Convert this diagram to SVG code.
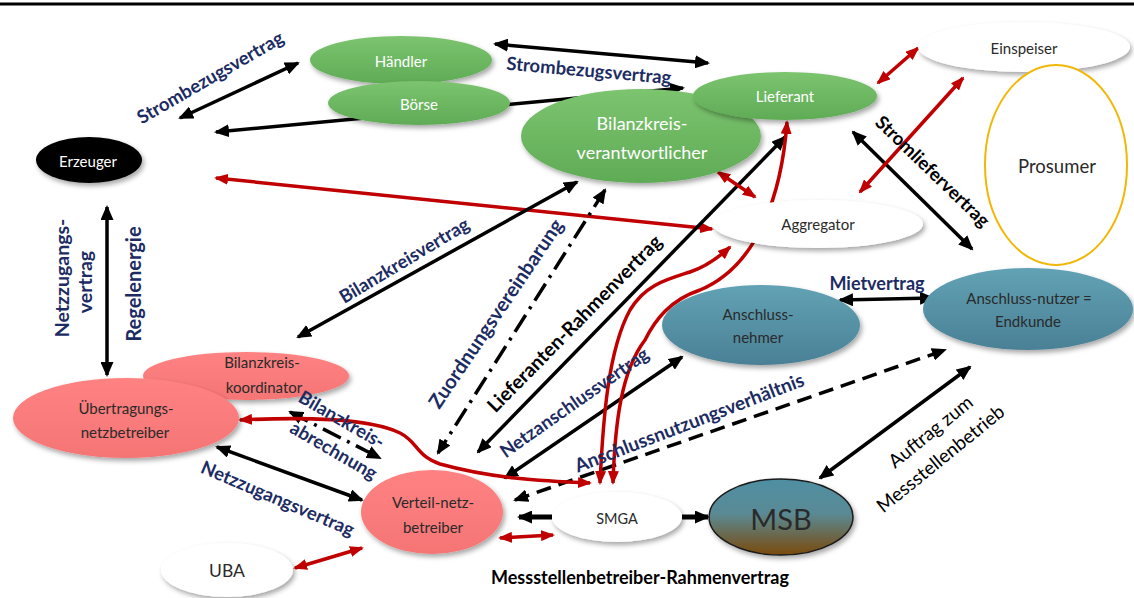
<svg xmlns="http://www.w3.org/2000/svg" width="1134" height="598" viewBox="0 0 1134 598">
<style>
.nt{font-family:Lato,"Open Sans",sans-serif;font-size:15px;text-anchor:middle;dominant-baseline:central}
.w{fill:#fff}
.d{fill:#2a2a2a}
.lb{font-family:Lato,"Open Sans",sans-serif;font-weight:bold;font-size:18.5px;fill:#1C2C63;text-anchor:middle;dominant-baseline:central}
.lk{font-family:Lato,"Open Sans",sans-serif;font-weight:bold;font-size:18.5px;fill:#000;text-anchor:middle;dominant-baseline:central}
.lr{font-family:Lato,"Open Sans",sans-serif;font-size:19px;fill:#000;text-anchor:middle;dominant-baseline:central}
.k{fill:none;stroke:#000;stroke-width:3.5}
.kd{marker-start:url(#ab);marker-end:url(#ab)}
.r{fill:none;stroke:#C00000;stroke-width:3.5;marker-start:url(#ar);marker-end:url(#ar)}
.dd{stroke-dasharray:20 7 3 7}
.ds{stroke-dasharray:15 8}
.g{fill:url(#gg)}
.s{fill:url(#gs)}
.t{fill:url(#gt)}
.wh{fill:#fff}
</style>
<defs>
<linearGradient id="gg" x1="0" y1="0" x2="0" y2="1"><stop offset="0" stop-color="#7CC46F"/><stop offset="1" stop-color="#60AB56"/></linearGradient>
<linearGradient id="gs" x1="0" y1="0" x2="0" y2="1"><stop offset="0" stop-color="#FF8282"/><stop offset="1" stop-color="#F57575"/></linearGradient>
<linearGradient id="gt" x1="0" y1="0" x2="0" y2="1"><stop offset="0" stop-color="#62A2B4"/><stop offset="1" stop-color="#4A8096"/></linearGradient>
<linearGradient id="gm" x1="0" y1="0" x2="0" y2="1"><stop offset="0" stop-color="#4F8FA3"/><stop offset="0.45" stop-color="#5A8A95"/><stop offset="1" stop-color="#7A4A0C"/></linearGradient>
<filter id="sh" x="-20%" y="-20%" width="140%" height="150%"><feDropShadow dx="2" dy="3" stdDeviation="2.5" flood-color="#000" flood-opacity="0.35"/></filter>
<marker id="ab" viewBox="0 0 15 13" refX="13" refY="6.5" markerWidth="15" markerHeight="13" markerUnits="userSpaceOnUse" orient="auto-start-reverse"><path d="M0,0 L15,6.5 L0,13 z" fill="#000"/></marker>
<marker id="ar" viewBox="0 0 14 11" refX="12" refY="5.5" markerWidth="14" markerHeight="11" markerUnits="userSpaceOnUse" orient="auto-start-reverse"><path d="M0,0 L14,5.5 L0,11 z" fill="#C00000"/></marker>
</defs>
<rect width="1134" height="598" fill="#fff"/>
<line x1="0" y1="4" x2="1134" y2="4" stroke="#000" stroke-width="3"/>

<g id="connectors">
<path class="k kd" d="M180,118 L298,63"/>
<path class="k kd" d="M216,132 L683,88"/>
<path class="r" d="M216,178 L712,229"/>
<path class="k kd" d="M495,44 L708,63"/>
<path class="k kd" d="M853,132 L972,249"/>
<path class="k kd" d="M577,182 L298,337"/>
<path class="k kd dd" d="M605,190 L438,453"/>
<path class="k kd" d="M785,137 L478,452"/>
<path class="k kd dd" d="M290,412 L380,458"/>
<path class="k kd" d="M217,447 L362,500"/>
<path class="k kd" d="M107,207 L107,375"/>
<path class="k kd" d="M505,478 L682,357"/>
<path class="k kd ds" d="M515,500 L945,350"/>
<path class="k kd" d="M840,300 L933,298"/>
<path class="k kd" d="M820,478 L970,367"/>
<path fill="none" stroke="#000" stroke-width="5" marker-end="url(#ab)" d="M552,517 L519,517"/>
<path fill="none" stroke="#000" stroke-width="5" marker-end="url(#ab)" d="M682,517 L708,517"/>
<path class="r" d="M718,172 L755,197"/>
<path class="r" d="M878,83 L918,48"/>
<path class="r" d="M963,78 L860,192"/>
<path class="r" d="M600,483 C603,420 608,350 630,310 C645,285 665,280 690,272 C705,267 718,258 730,247"/>
<path class="r" d="M613,483 C615,420 622,370 645,340 C655,320 670,300 700,290 C760,265 782,190 787,122"/>
<path class="r" d="M240,420 C300,417 370,418 400,433 C418,442 415,455 440,464 C490,478 540,481 590,483"/>
<path class="r" d="M500,538 L553,535"/>
<path class="r" d="M295,568 L362,548"/>
</g>

<g id="haendler"><ellipse class="g" cx="401" cy="60" rx="91" ry="24" filter="url(#sh)"/><text class="nt w" x="401" y="61">Händler</text></g>
<g id="boerse"><ellipse class="g" cx="419" cy="103" rx="91" ry="22" filter="url(#sh)"/><text class="nt w" x="419" y="104">Börse</text></g>
<g id="bkv"><ellipse class="g" cx="641" cy="136" rx="120" ry="47" filter="url(#sh)"/><text class="nt w" x="642" y="123" style="font-size:18px">Bilanzkreis-</text><text class="nt w" x="642" y="152" style="font-size:18px">verantwortlicher</text></g>
<g id="lieferant"><ellipse class="g" cx="785" cy="96" rx="92" ry="24" filter="url(#sh)"/><text class="nt w" x="785" y="96">Lieferant</text></g>
<g id="einspeiser"><ellipse class="wh" cx="1024" cy="47" rx="106" ry="25" filter="url(#sh)"/><text class="nt d" x="1024" y="48">Einspeiser</text></g>
<g id="prosumer"><ellipse cx="1056" cy="165" rx="71" ry="100" fill="#fff" stroke="#F2B705" stroke-width="2"/><text class="nt d" x="1057" y="166" style="font-size:18.5px">Prosumer</text></g>
<g id="erzeuger"><ellipse cx="89" cy="160" rx="53" ry="23" fill="#000" filter="url(#sh)"/><text class="nt w" x="88" y="161">Erzeuger</text></g>
<g id="aggregator"><ellipse class="wh" cx="818" cy="224" rx="105" ry="24" filter="url(#sh)"/><text class="nt d" x="818" y="224">Aggregator</text></g>
<g id="anschlussnehmer"><ellipse class="t" cx="761" cy="325" rx="99" ry="40" filter="url(#sh)"/><text class="nt d" x="758" y="314">Anschluss-</text><text class="nt d" x="758" y="337">nehmer</text></g>
<g id="anschlussnutzer"><ellipse class="t" cx="1028" cy="309" rx="105" ry="41" filter="url(#sh)"/><text class="nt d" x="1029" y="298">Anschluss-nutzer =</text><text class="nt d" x="1028" y="321">Endkunde</text></g>
<g id="bkk"><ellipse class="s" cx="246" cy="376" rx="103" ry="24" filter="url(#sh)"/><text class="nt d" x="262" y="362">Bilanzkreis-</text><text class="nt d" x="264" y="387">koordinator</text></g>
<g id="uenb"><ellipse class="s" cx="126" cy="418" rx="113" ry="40" filter="url(#sh)"/><text class="nt d" x="126" y="408">Übertragungs-</text><text class="nt d" x="125" y="432">netzbetreiber</text></g>
<g id="vnb"><ellipse class="s" cx="432" cy="512" rx="71" ry="42" filter="url(#sh)"/><text class="nt d" x="433" y="502">Verteil-netz-</text><text class="nt d" x="433" y="527">betreiber</text></g>
<g id="smga"><ellipse class="wh" cx="617" cy="517" rx="65" ry="25" filter="url(#sh)"/><text class="nt d" x="617" y="518" style="font-size:14.5px">SMGA</text></g>
<g id="msb"><ellipse cx="781" cy="517" rx="72" ry="38" fill="url(#gm)" stroke="#1a1a1a" stroke-width="1.5" filter="url(#sh)"/><text class="nt d" x="781" y="518" style="font-size:29px">MSB</text></g>
<g id="uba"><ellipse class="wh" cx="227" cy="570" rx="66" ry="27" filter="url(#sh)"/><text class="nt d" x="227" y="570" style="font-size:17.5px">UBA</text></g>

<g id="labels">
<text class="lb" transform="translate(210,77) rotate(-30)">Strombezugsvertrag</text>
<text class="lb" transform="translate(589,70) rotate(5)">Strombezugsvertrag</text>
<text class="lk" transform="translate(933,171) rotate(44)">Stromliefervertrag</text>
<text class="lb" transform="translate(404,260) rotate(-31)">Bilanzkreisvertrag</text>
<text class="lb" transform="translate(495,313) rotate(-56)" style="font-size:20px">Zuordnungsvereinbarung</text>
<text class="lk" transform="translate(574,323) rotate(-45.5)" style="font-size:19.5px">Lieferanten-Rahmenvertrag</text>
<text class="lb" transform="translate(574,402) rotate(-35)">Netzanschlussvertrag</text>
<text class="lb" transform="translate(689,422) rotate(-21)" style="font-size:19px">Anschlussnutzungsverhältnis</text>
<text class="lb" x="877" y="283" style="font-size:18px">Mietvertrag</text>
<text class="lr" transform="translate(930,431) rotate(-39)">Auftrag zum</text>
<text class="lr" transform="translate(940,458) rotate(-39)">Messstellenbetrieb</text>
<text class="lb" transform="translate(342,419) rotate(30)">Bilanzkreis-</text>
<text class="lb" transform="translate(334,450) rotate(30)">abrechnung</text>
<text class="lb" transform="translate(278,498) rotate(23)">Netzzugangsvertrag</text>
<text class="lb" transform="translate(61,278) rotate(-90)" style="font-size:19.5px">Netzzugangs-</text>
<text class="lb" transform="translate(84,282) rotate(-90)" style="font-size:19.5px">vertrag</text>
<text class="lb" transform="translate(133,284) rotate(-90)" style="font-size:20px">Regelenergie</text>
<text class="lk" x="640" y="577" style="font-size:18px">Messstellenbetreiber-Rahmenvertrag</text>
</g>
</svg>
